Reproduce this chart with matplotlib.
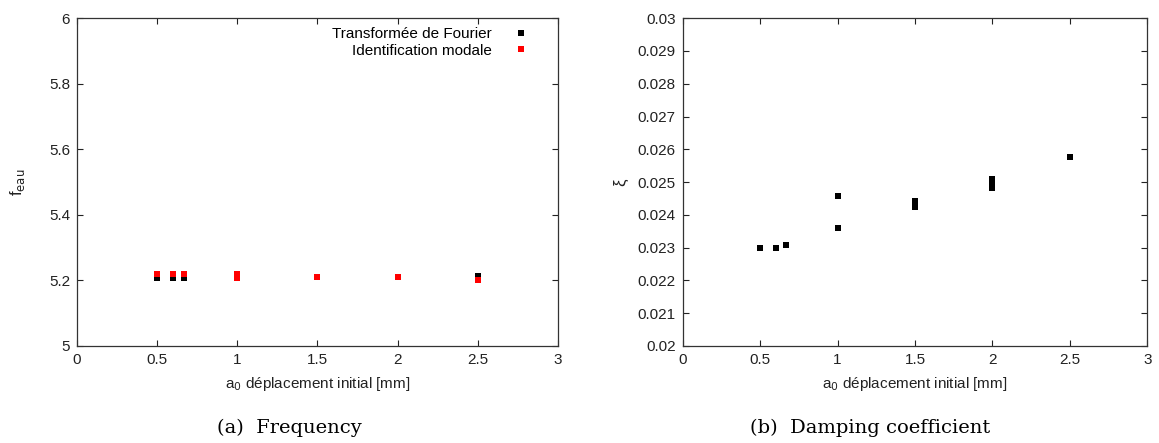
import matplotlib
matplotlib.use('Agg')
import matplotlib.pyplot as plt
from matplotlib.ticker import FormatStrFormatter

# Left panel: frequency vs initial displacement
a_fourier = [0.5, 0.6, 0.67, 1.0, 1.5, 2.0, 2.5]
f_fourier = [5.208, 5.208, 5.208, 5.208, 5.211, 5.211, 5.213]
a_modal = [0.5, 0.6, 0.67, 1.0, 1.0, 1.5, 2.0, 2.5]
f_modal = [5.219, 5.219, 5.219, 5.220, 5.208, 5.211, 5.211, 5.200]

# Right panel: damping coefficient
a_xi = [0.5, 0.6, 0.67, 1.0, 1.0, 1.5, 1.5, 1.5, 2.0, 2.0, 2.0, 2.0, 2.5]
xi = [0.02300, 0.02299, 0.02308, 0.02457, 0.02360, 0.02442, 0.02432, 0.02423,
      0.02508, 0.02500, 0.02492, 0.02483, 0.02576]

x_ticks = [0, 0.5, 1, 1.5, 2, 2.5, 3]
f_ticks = [5, 5.2, 5.4, 5.6, 5.8, 6]
xi_ticks = [0.02, 0.021, 0.022, 0.023, 0.024, 0.025, 0.026, 0.027, 0.028, 0.029, 0.03]

plt.rcParams['font.family'] = ['Liberation Sans', 'DejaVu Sans']
txt = '#222222'

fig = plt.figure(figsize=(11.59, 4.43), dpi=100)
ax1 = fig.add_axes([0.0664, 0.219, 0.415, 0.740])
ax2 = fig.add_axes([0.589, 0.219, 0.401, 0.740])


def style(ax, yticks, yfmt):
    ax.set_xlim(0, 3)
    ax.set_xticks(x_ticks)
    ax.set_yticks(yticks)
    ax.set_ylim(yticks[0], yticks[-1])
    ax.xaxis.set_major_formatter(FormatStrFormatter('%g'))
    ax.yaxis.set_major_formatter(FormatStrFormatter(yfmt))
    ax.tick_params(direction='in', top=True, right=True, length=4,
                   width=0.8, labelsize=11, colors=txt, pad=5)
    for s in ax.spines.values():
        s.set_color('#333333')
        s.set_linewidth(0.9)
    ax.set_xlabel('a$_0$ déplacement initial [mm]', fontsize=11, color=txt, labelpad=6)


ax1.plot(a_fourier, f_fourier, 's', color='black', ms=4.3, mew=0,
         label='Transformée de Fourier')
ax1.plot(a_modal, f_modal, 's', color='red', ms=4.3, mew=0,
         label='Identification modale')
style(ax1, f_ticks, '%g')
ax1.set_ylabel('f$_{\\mathrm{eau}}$', fontsize=12, color=txt, labelpad=16)
ax1.legend(loc='upper right', markerfirst=False, frameon=False, fontsize=11,
           handlelength=1.0, handletextpad=1.4, labelspacing=0.15,
           borderaxespad=0.2, bbox_to_anchor=(0.958, 1.0))

ax2.plot(a_xi, xi, 's', color='black', ms=4.3, mew=0)
style(ax2, xi_ticks, '%g')
ax2.set_ylabel('ξ', fontsize=12, color=txt, labelpad=7)

fig.text(0.25, 0.035, '(a)  Frequency', ha='center', va='center',
         fontsize=14, family='DejaVu Serif', color='black')
fig.text(0.751, 0.035, '(b)  Damping coefficient', ha='center', va='center',
         fontsize=14, family='DejaVu Serif', color='black')

fig.savefig('out.png', dpi=100)
